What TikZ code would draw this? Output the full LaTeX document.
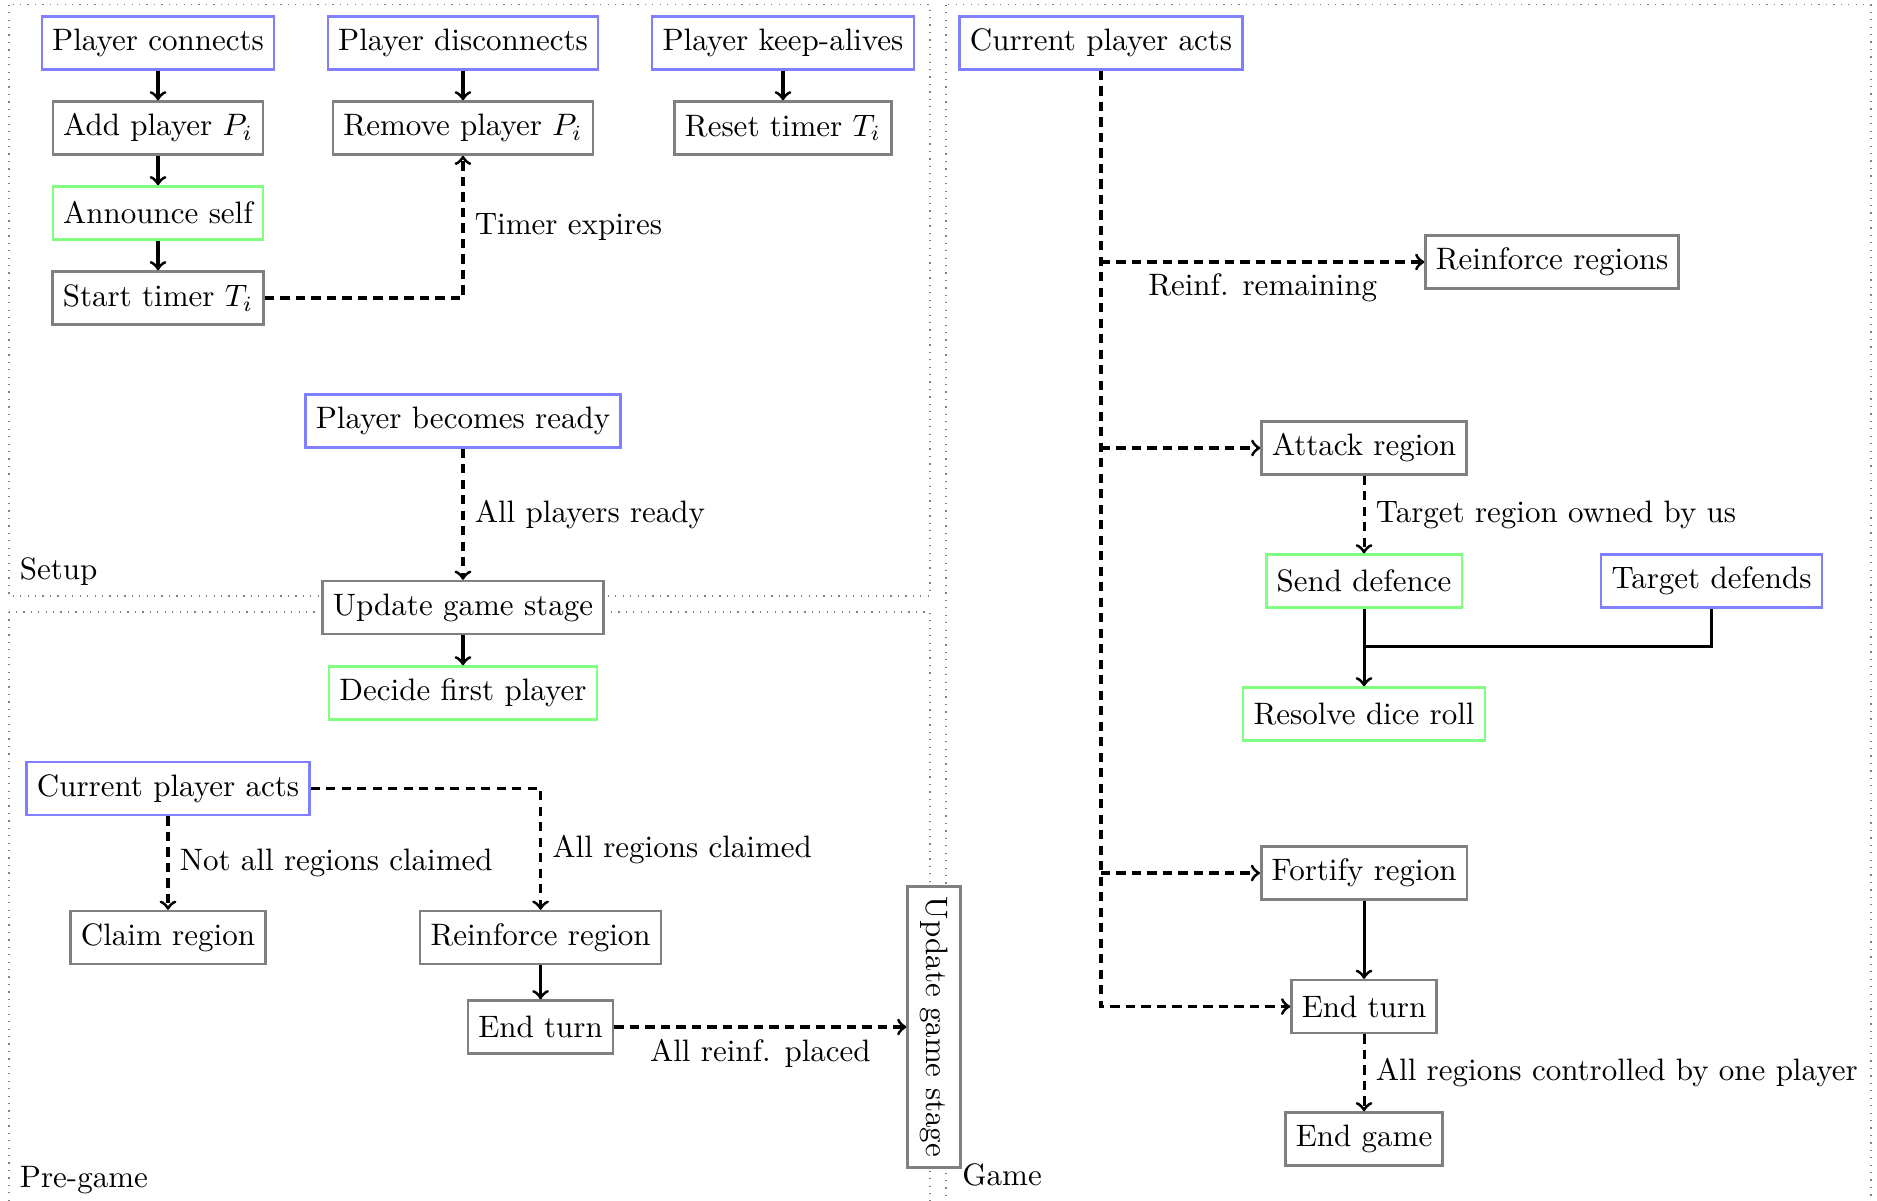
\documentclass[tikz,border=0pt]{standalone}
\usepackage{tikz}
\begin{document}
\begin{tikzpicture}[
    event/.style={rectangle, draw=blue!50, thick, fill=white, minimum height=0.6cm},
    task/.style={rectangle, draw=black!50, thick, fill=white, minimum height=0.6cm},
    notify/.style={rectangle, draw=green!50, thick, fill=white, minimum height=0.6cm},
    stage/.style={draw=gray, dotted},
    flow/.style={->, line width=1pt},
    cond/.style={->, line width=1pt, densely dashed}
]
    \clip (0, 0) rectangle (21.285, -13.619);

    % stages
    \draw[stage] (0.102, -0.053) rectangle (10.546, -6.759);
    \draw[stage] (0.102, -6.940) rectangle (10.546, -13.665);
    \draw[stage] (10.728, -0.053) rectangle (21.217, -13.665);
    \node[anchor=south west] (lsetup) at (0.102, -6.759) {Setup};
    \node[anchor=south west] (lpre) at (0.102, -13.665) {Pre-game};
    \node[anchor=south west] (lgame) at (10.789, -13.580) {Game};

    % setup
    \node[event] (pconn) at (1.792, -0.488) {Player connects};
    \node[event] (pdisc) at (5.250, -0.488) {Player disconnects};
    \node[event] (pkeep) at (8.879, -0.488) {Player keep-alives};
    \node[task] (addp) at (1.792, -1.452) {Add player $P_i$};
    \node[task] (remp) at (5.250, -1.452) {Remove player $P_i$};
    \node[task] (rest) at (8.879, -1.452) {Reset timer $T_i$};
    \node[notify] (annc) at (1.792, -2.415) {Announce self};
    \node[task] (start) at (1.792, -3.379) {Start timer $T_i$};
    \node[event] (ready) at (5.250, -4.774) {Player becomes ready};
    \node[task] (upd) at (5.250, -6.889) {Update game stage};

    % pre-game
    \node[notify] (first) at (5.250, -7.859) {Decide first player};
    \node[event] (pcur) at (1.905, -8.942) {Current player acts};
    \node[task] (claim) at (1.905, -10.631) {Claim region};
    \node[task] (reinf) at (6.130, -10.631) {Reinforce region};
    \node[task] (pend) at (6.130, -11.646) {End turn};
    \node[task, rotate=-90] (updv) at (10.592, -11.646) {Update game stage};

    % game
    \node[event] (gcur) at (12.485, -0.488) {Current player acts};
    \node[task] (greinf) at (17.600, -2.971) {Reinforce regions};
    \node[task] (attack) at (15.468, -5.080) {Attack region};
    \node[notify] (defence) at (15.468, -6.589) {Send defence};
    \node[event] (tdef) at (19.408, -6.589) {Target defends};
    \coordinate (join) at (15.468, -7.326);
    \node[notify] (dice) at (15.468, -8.097) {Resolve dice roll};
    \node[task] (fortify) at (15.468, -9.900) {Fortify region};
    \node[task] (gend) at (15.468, -11.414) {End turn};
    \node[task] (endgame) at (15.468, -12.916) {End game};

    \draw[flow] (pconn) -- (addp);
    \draw[flow] (addp) -- (annc);
    \draw[flow] (annc) -- (start);
    \draw[flow] (pdisc) -- (remp);
    \draw[flow] (pkeep) -- (rest);
    \draw[cond] (start) -| node[pos=0.75, right] {Timer expires} (remp);
    \draw[cond] (ready) -- node[right] {All players ready} (upd);
    \draw[flow] (upd) -- (first);

    \draw[cond] (pcur) -- node[right] {Not all regions claimed} (claim);
    \draw[cond] (pcur) -| node[pos=0.75, right] {All regions claimed} (reinf);
    \draw[flow] (reinf) -- (pend);
    \draw[cond] (pend) -- node[below] {All reinf. placed} (updv);

    \draw[cond] (gcur) |- (gend);
    \draw[cond] (gcur |- greinf) -- node[below] {Reinf. remaining} (greinf);
    \draw[cond] (gcur |- attack) -- (attack);
    \draw[cond] (attack) -- node[right] {Target region owned by us} (defence);
    \draw[flow] (defence) -- (dice);
    \draw[line width=1pt] (tdef) |- (join);
    \draw[cond] (gcur |- fortify) -- (fortify);
    \draw[flow] (fortify) -- (gend);
    \draw[cond] (gend) -- node[right] {All regions controlled by one player} (endgame);
\end{tikzpicture}
\end{document}
